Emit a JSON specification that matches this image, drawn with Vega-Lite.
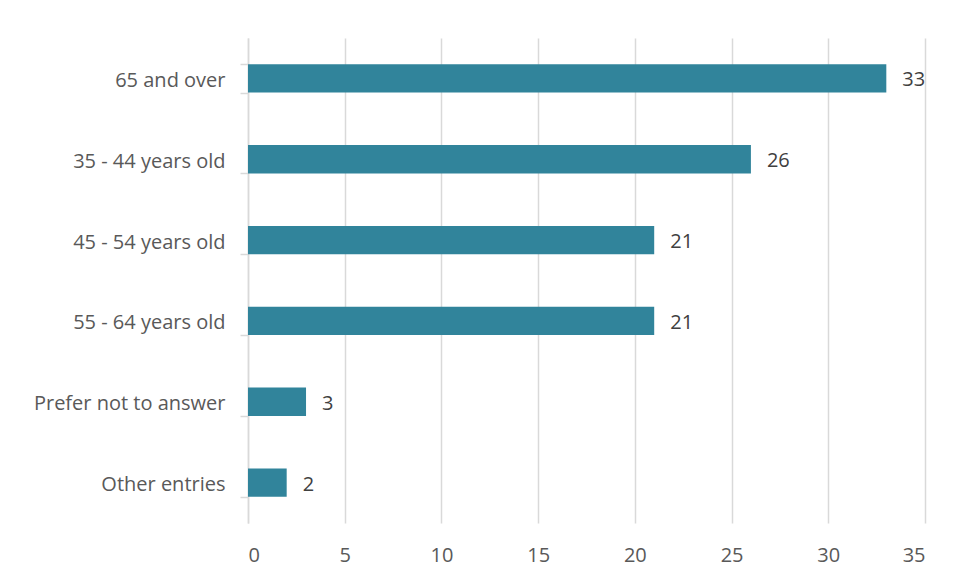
{
  "$schema": "https://vega.github.io/schema/vega-lite/v6.json",
  "autosize": {"type": "none"},
  "padding": {"left": 248, "top": 38, "right": 32, "bottom": 56},
  "width": 677,
  "height": 485,
  "background": "white",
  "config": {"view": {"stroke": null}, "font": "Open Sans"},
  "data": {"values": [
    {"group": "65 and over", "count": 33},
    {"group": "35 - 44 years old", "count": 26},
    {"group": "45 - 54 years old", "count": 21},
    {"group": "55 - 64 years old", "count": 21},
    {"group": "Prefer not to answer", "count": 3},
    {"group": "Other entries", "count": 2}
  ]},
  "encoding": {
    "y": {"field": "group", "type": "nominal", "sort": null,
      "scale": {"paddingInner": 0.65, "paddingOuter": 0.325},
      "axis": {"title": null, "tickBand": "extent", "domainColor": "#d9d9d9", "tickColor": "#d9d9d9", "tickSize": 8, "domainWidth": 1.5, "tickWidth": 1.5, "labelPadding": 15, "labelOffset": 2, "labelLimit": 400, "labelFontSize": 20, "labelColor": "#595959", "labelFont": "Open Sans", "grid": false}},
    "x": {"field": "count", "type": "quantitative",
      "scale": {"domain": [0, 35], "nice": false},
      "axis": {"title": null, "values": [0, 5, 10, 15, 20, 25, 30, 35], "domain": false, "ticks": false, "grid": true, "gridColor": "#d9d9d9", "gridWidth": 1.5, "labelPadding": 22, "labelFontSize": 20, "labelColor": "#595959", "labelFont": "Open Sans"}}
  },
  "layer": [
    {"mark": {"type": "bar", "color": "#31849b"}},
    {"mark": {"type": "text", "align": "left", "dx": 16, "dy": 2, "fontSize": 20, "color": "#404040", "font": "Open Sans"},
      "encoding": {"text": {"field": "count", "type": "quantitative"}}}
  ]
}
